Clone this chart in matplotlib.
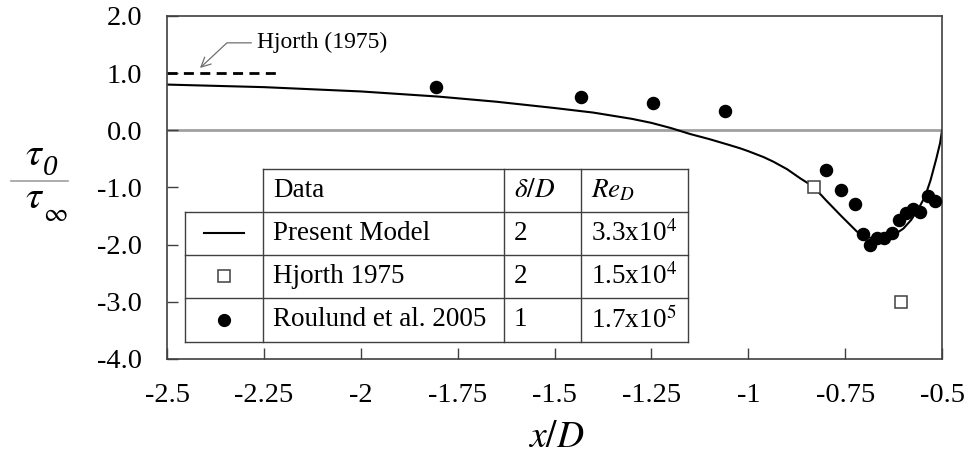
import matplotlib
matplotlib.use("Agg")
import matplotlib.pyplot as plt

plt.rcParams['font.family'] = ['Liberation Serif', 'DejaVu Serif']
plt.rcParams['mathtext.fontset'] = 'stix'
plt.rcParams['axes.unicode_minus'] = False

# present model curve
model_x = [-2.5, -2.25, -2.0, -1.8, -1.65, -1.5, -1.4, -1.3, -1.25, -1.2, -1.15, -1.1,
           -1.05, -1.021, -1.0, -0.96, -0.935, -0.90, -0.866, -0.845, -0.83, -0.80,
           -0.76, -0.72, -0.70, -0.68, -0.66, -0.64, -0.62, -0.60, -0.58, -0.56,
           -0.544, -0.53, -0.515, -0.505, -0.5]
model_y = [0.80, 0.755, 0.68, 0.59, 0.50, 0.39, 0.31, 0.20, 0.13, 0.04, -0.065, -0.155,
           -0.255, -0.315, -0.365, -0.47, -0.55, -0.68, -0.84, -0.93, -1.0, -1.22,
           -1.50, -1.77, -1.85, -1.89, -1.895, -1.87, -1.81, -1.72, -1.57, -1.36,
           -1.16, -0.88, -0.50, -0.22, 0.0]

# Hjorth 1975 (open squares)
hjorth_x = [-0.831, -0.606]
hjorth_y = [-1.0, -3.0]

# Roulund et al. 2005 (filled circles)
roulund_x = [-1.806, -1.432, -1.247, -1.059, -0.799, -0.761, -0.724, -0.705, -0.686,
             -0.669, -0.649, -0.630, -0.611, -0.594, -0.575, -0.556, -0.537, -0.518]
roulund_y = [0.75, 0.58, 0.47, 0.34, -0.70, -1.05, -1.29, -1.81, -2.01,
             -1.88, -1.88, -1.80, -1.57, -1.45, -1.37, -1.43, -1.15, -1.24]

# Hjorth (1975) far-field value
hjorth_far_x = [-2.5, -2.216]
hjorth_far_y = [1.0, 1.0]

x_ticks = [-2.5, -2.25, -2.0, -1.75, -1.5, -1.25, -1.0, -0.75, -0.5]
x_labels = ["-2.5", "-2.25", "-2", "-1.75", "-1.5", "-1.25", "-1", "-0.75", "-0.5"]
y_ticks = [-4, -3, -2, -1, 0, 1, 2]
y_labels = ["-4.0", "-3.0", "-2.0", "-1.0", "0.0", "1.0", "2.0"]

table_header = ["Data", r"$\delta/D$", r"$Re_D$"]
table_rows = [["Present Model", "2", r"3.3x10$^4$"],
              ["Hjorth 1975", "2", r"1.5x10$^4$"],
              ["Roulund et al. 2005", "1", r"1.7x10$^5$"]]

fig = plt.figure(figsize=(9.7, 4.59), dpi=100)
ax = fig.add_axes([0.1722, 0.2179, 0.7990, 0.7473])

ax.axhline(0, color='#a0a0a0', lw=2, zorder=1)
ax.plot(model_x, model_y, color='black', lw=1.5, zorder=2)
ax.plot(hjorth_far_x, hjorth_far_y, color='black', lw=2, ls=(0, (3.6, 2.3)), zorder=2)
ax.plot(hjorth_x, hjorth_y, ls='none', marker='s', ms=8.5, mfc='white', mec='#404040',
        mew=1.1, zorder=3)
ax.plot(roulund_x, roulund_y, ls='none', marker='o', ms=8.7, color='black', zorder=3)

ax.annotate("Hjorth (1975)", xy=(-2.415, 1.09), xytext=(-2.268, 1.53),
            fontsize=17, va='center', ha='left',
            arrowprops=dict(arrowstyle='->', color='#707070', lw=0.9,
                            connectionstyle='angle,angleA=0,angleB=43,rad=0',
                            shrinkA=2, shrinkB=0))

ax.set_xlim(-2.5, -0.5)
ax.set_ylim(-4, 2)
ax.set_xticks(x_ticks)
ax.set_xticklabels(x_labels)
ax.set_yticks(y_ticks)
ax.set_yticklabels(y_labels)
ax.tick_params(direction='in', length=8, width=1, color='#404040', labelsize=20.5)
ax.tick_params(axis='x', pad=17)
ax.tick_params(axis='y', pad=18)
for s in ax.spines.values():
    s.set_color('#404040')
    s.set_linewidth(1.2)

# table drawn in axes fraction
cols = [0.0232, 0.1239, 0.4348, 0.5342, 0.6723]
rows = [0.5539, 0.4286, 0.3032, 0.1778, 0.0496]
tc = '#404040'
tk = dict(transform=ax.transAxes, color=tc, lw=1, zorder=4)
ax.plot([cols[1], cols[4]], [rows[0], rows[0]], **tk)
for r in rows[1:]:
    ax.plot([cols[0], cols[4]], [r, r], **tk)
ax.plot([cols[0], cols[0]], [rows[1], rows[4]], **tk)
for c in cols[1:]:
    ax.plot([c, c], [rows[0], rows[4]], **tk)

pad = 0.013
for j, txt in enumerate(table_header):
    ax.text(cols[j + 1] + pad, (rows[0] + rows[1]) / 2, txt, transform=ax.transAxes,
            fontsize=19.5, va='center', ha='left')
for i, row in enumerate(table_rows):
    yc = (rows[i + 1] + rows[i + 2]) / 2
    for j, txt in enumerate(row):
        ax.text(cols[j + 1] + pad, yc, txt, transform=ax.transAxes,
                fontsize=19.5, va='center', ha='left')

# legend symbols in the first column
xm = (cols[0] + cols[1]) / 2
y1 = (rows[1] + rows[2]) / 2
y2 = (rows[2] + rows[3]) / 2
y3 = (rows[3] + rows[4]) / 2
ax.plot([xm - 0.026, xm + 0.026], [y1, y1], transform=ax.transAxes, color='black', lw=1.5)
ax.plot([xm], [y2], transform=ax.transAxes, marker='s', ms=8.5, mfc='white',
        mec='#404040', mew=1.1)
ax.plot([xm], [y3], transform=ax.transAxes, marker='o', ms=8.5, color='black')

# axis labels
fig.text(0.573, 0.046, r"$x/D$", fontsize=27, ha='center', va='center')
fig.text(0.0258, 0.6405, r"$\tau$", fontsize=29, ha='left', va='baseline')
fig.text(0.0445, 0.6187, "0", fontsize=21, style='italic', ha='left', va='baseline')
fig.text(0.0258, 0.5462, r"$\tau$", fontsize=29, ha='left', va='baseline')
fig.text(0.0445, 0.5195, r"$\infty$", fontsize=19, ha='left', va='baseline')
fig.add_artist(plt.Line2D([0.0113, 0.0701], [0.6057, 0.6057], color='#a0a0a0', lw=1.2))

fig.savefig("out.png", dpi=100)
